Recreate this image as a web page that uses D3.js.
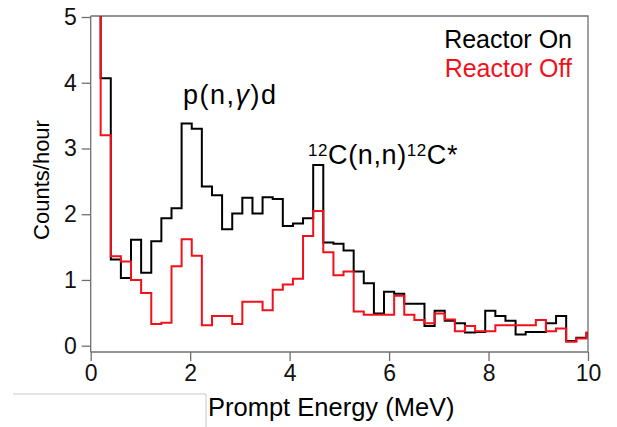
<!DOCTYPE html>
<html>
<head>
<meta charset="utf-8">
<script src="https://cdn.jsdelivr.net/npm/d3@7"></script>
<style>
	body { margin: 0; background: #fff; }
	text { font-family: "Liberation Sans", Arial, Helvetica, sans-serif; }
</style>
</head>
<body>
<svg class="chart"></svg>
<script>
// bin edges in MeV (left edges, last value = right edge of last bin)
var binEdges = [0.000, 0.200, 0.404, 0.607, 0.811, 1.014, 1.218, 1.421, 1.625, 1.828, 2.032,
	2.235, 2.439, 2.642, 2.846, 3.049, 3.253, 3.456, 3.660, 3.863, 4.067,
	4.270, 4.474, 4.677, 4.881, 5.084, 5.288, 5.491, 5.695, 5.898, 6.102,
	6.305, 6.509, 6.712, 6.916, 7.119, 7.323, 7.526, 7.730, 7.933, 8.137,
	8.340, 8.544, 8.747, 8.951, 9.154, 9.358, 9.561, 9.765, 9.968, 10.172];

// counts/hour per bin
var reactorOn = [6.00, 4.07, 1.31, 1.03, 1.61, 1.11, 1.59, 1.94, 2.09, 3.38, 3.30,
	2.42, 2.29, 1.77, 2.01, 2.25, 2.01, 2.26, 2.23, 1.82, 1.86,
	1.94, 2.75, 1.57, 1.55, 1.45, 1.13, 0.95, 0.49, 0.82, 0.79,
	0.64, 0.64, 0.30, 0.53, 0.38, 0.34, 0.20, 0.21, 0.53, 0.45,
	0.38, 0.17, 0.21, 0.21, 0.34, 0.45, 0.07, 0.12, 0.19];

var reactorOff = [6.00, 3.20, 1.36, 1.28, 1.00, 0.80, 0.33, 0.35, 1.21, 1.62, 1.37,
	0.31, 0.45, 0.45, 0.33, 0.67, 0.67, 0.54, 0.85, 0.93, 1.02,
	1.67, 2.05, 1.42, 1.07, 1.13, 0.52, 0.47, 0.47, 0.47, 0.76,
	0.47, 0.39, 0.34, 0.49, 0.40, 0.22, 0.30, 0.22, 0.22, 0.31,
	0.31, 0.31, 0.31, 0.39, 0.22, 0.26, 0.06, 0.11, 0.20];

var xTicks = [0, 2, 4, 6, 8, 10];
var yTicks = [0, 1, 2, 3, 4, 5];
var seriesNames = ["Reactor On", "Reactor Off"];
var seriesColors = ["#000000", "#f2111b"];

var frameWidth = 617;
var frameHeight = 427;
var plotLeft = 90.7, plotRight = 588, plotTop = 16, axisY = 352;
var axisColor = "#6f6f6f";

var xScale = d3.scaleLinear().domain([0, 10]).range([plotLeft, plotRight]);
var yScale = d3.scaleLinear().domain([0, 5]).range([345.7, 17]);

var svg = d3.select(".chart")
	.attr("width", frameWidth)
	.attr("height", frameHeight);

svg.append("defs").append("clipPath").attr("id", "plotclip")
	.append("rect")
	.attr("x", plotLeft).attr("y", plotTop)
	.attr("width", plotRight - plotLeft).attr("height", axisY - plotTop);

// frame lines (top and right)
svg.append("path")
	.attr("d", "M" + plotLeft + "," + plotTop + "H" + plotRight + "V" + axisY)
	.attr("fill", "none")
	.attr("stroke", axisColor)
	.attr("stroke-width", 1.3);

// histograms
function stepPoints(values) {
	var pts = values.map(function(v, i) { return [binEdges[i], v]; });
	pts.push([binEdges[values.length], values[values.length - 1]]);
	return pts;
}
var line = d3.line()
	.x(function(d) { return xScale(d[0]); })
	.y(function(d) { return yScale(d[1]); })
	.curve(d3.curveStepAfter);

var plot = svg.append("g").attr("clip-path", "url(#plotclip)");
[reactorOn, reactorOff].forEach(function(values, i) {
	plot.append("path")
		.attr("d", line(stepPoints(values)))
		.attr("fill", "none")
		.attr("stroke", seriesColors[i])
		.attr("stroke-width", 2);
});

// y axis
var yAxis = svg.append("g")
	.attr("transform", "translate(" + plotLeft + ",0)")
	.call(d3.axisLeft(yScale).tickValues(yTicks).tickFormat(d3.format("d")).tickSize(9).tickPadding(5));
yAxis.select(".domain").remove();
yAxis.selectAll(".tick line").attr("stroke", axisColor).attr("stroke-width", 1.3);
yAxis.selectAll(".tick text").attr("font-size", 23).attr("fill", "#111")
	.attr("font-family", "Liberation Sans, Arial, sans-serif");
svg.append("line")
	.attr("x1", plotLeft).attr("x2", plotLeft).attr("y1", plotTop).attr("y2", axisY)
	.attr("stroke", axisColor).attr("stroke-width", 1.3);

// x axis
var xAxis = svg.append("g")
	.attr("transform", "translate(0," + axisY + ")")
	.call(d3.axisBottom(xScale).tickValues(xTicks).tickFormat(d3.format("d")).tickSize(9).tickPadding(4));
xAxis.select(".domain").remove();
xAxis.selectAll(".tick line").attr("stroke", axisColor).attr("stroke-width", 1.3);
xAxis.selectAll(".tick text").attr("font-size", 23).attr("fill", "#111")
	.attr("font-family", "Liberation Sans, Arial, sans-serif");
svg.append("line")
	.attr("x1", plotLeft).attr("x2", plotRight).attr("y1", axisY).attr("y2", axisY)
	.attr("stroke", axisColor).attr("stroke-width", 1.3);

// axis titles
svg.append("text")
	.attr("transform", "translate(49,180) rotate(-90)")
	.style("text-anchor", "middle")
	.attr("font-size", 22)
	.text("Counts/hour");

svg.append("text")
	.attr("x", 208).attr("y", 416)
	.attr("font-size", 25.5)
	.text("Prompt Energy (MeV)");

// faint box line around the bottom left
svg.append("path")
	.attr("d", "M13,394H206V427")
	.attr("fill", "none")
	.attr("stroke", "#c9c9c9")
	.attr("stroke-width", 1);

// legend
seriesNames.forEach(function(name, i) {
	svg.append("text")
		.attr("x", 572).attr("y", 48 + i * 29)
		.style("text-anchor", "end")
		.attr("font-size", 25)
		.attr("fill", seriesColors[i])
		.text(name);
});

// annotations
var a1 = svg.append("text").attr("x", 183).attr("y", 104).attr("font-size", 27)
	.attr("letter-spacing", 1.5);
a1.append("tspan").text("p(n,");
a1.append("tspan").attr("font-style", "italic").text("γ");
a1.append("tspan").text(")d");

var a2 = svg.append("text").attr("x", 308).attr("y", 164).attr("font-size", 27)
	.attr("letter-spacing", 0.6);
a2.append("tspan").attr("font-size", 17).attr("dy", -8).text("12");
a2.append("tspan").attr("dy", 8).text("C(n,n)");
a2.append("tspan").attr("font-size", 17).attr("dy", -8).text("12");
a2.append("tspan").attr("dy", 8).text("C*");
</script>
</body>
</html>
